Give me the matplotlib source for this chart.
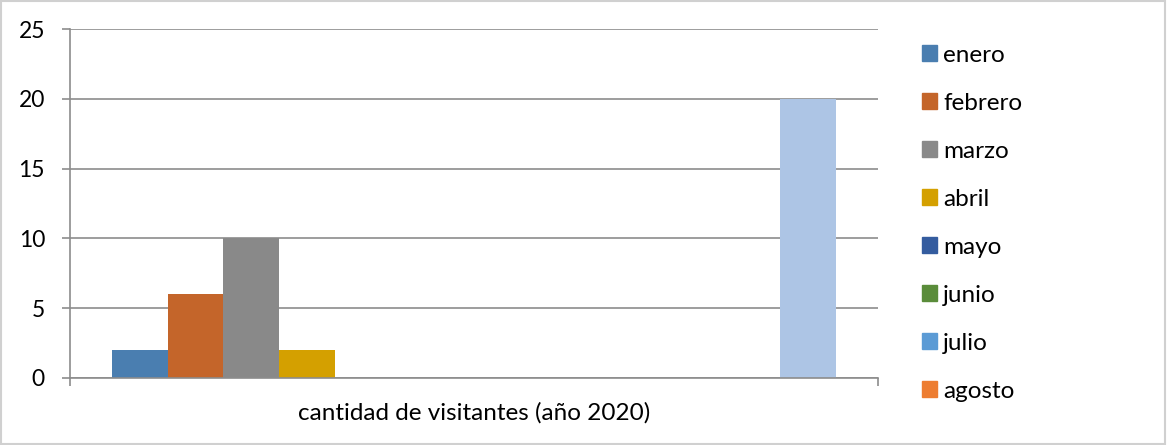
import numpy as np
import matplotlib.pyplot as plt
from matplotlib.patches import Patch, Rectangle

plt.rcParams['font.family'] = ['Lato', 'DejaVu Sans']

category = "cantidad de visitantes (año 2020)"
series = ["enero", "febrero", "marzo", "abril", "mayo", "junio", "julio", "agosto",
          "septiembre", "octubre", "noviembre", "diciembre", "total"]
values = [2, 6, 10, 2, 0, 0, 0, 0, 0, 0, 0, 0, 20]
colors = ["#4A7EB0", "#C4652A", "#898989", "#D4A000", "#345C9F", "#5A8C3A",
          "#5B9BD5", "#ED7D31", "#A5A5A5", "#FFC000", "#4472C4", "#70AD47", "#ADC5E5"]
legend_count = 8  # only first 8 entries fit in the legend box

fig = plt.figure(figsize=(11.67, 4.45), dpi=100)
ax = fig.add_axes([70/1167, 67/445, 808/1167, 349/445])

n = len(series)
w = 1 / (n + 1.5)
for i, (name, v, c) in enumerate(zip(series, values, colors)):
    ax.bar((i - (n - 1) / 2) * w, v, width=w, color=c, label=name)

ax.set_xlim(-0.5, 0.5)
ax.set_ylim(0, 25)
ax.set_yticks([0, 5, 10, 15, 20, 25])
ax.yaxis.grid(True, color="#8c8c8c", linewidth=1.2)
ax.set_axisbelow(True)
ax.set_xticks([-0.5, 0.5])
ax.set_xticklabels([])
ax.tick_params(axis='both', direction='out', length=6, color="#8c8c8c", width=1.2)
ax.tick_params(axis='y', labelsize=16.5, pad=12)
for s in ["top", "right"]:
    ax.spines[s].set_visible(False)
for s in ["left", "bottom"]:
    ax.spines[s].set_color("#8c8c8c")
    ax.spines[s].set_linewidth(1.2)

ax.text(0, -0.1, category, transform=ax.get_xaxis_transform(), ha='center', va='center', fontsize=17.5)

handles = [Patch(color=c) for c in colors[:legend_count]]
fig.legend(handles, series[:legend_count], loc='upper left', bbox_to_anchor=(900/1167, 422/445),
           frameon=False, fontsize=17.5, handlelength=0.62, handleheight=0.62,
           handletextpad=0.25, labelspacing=1.11)

fig.patches.append(Rectangle((0.001, 0.002), 0.997, 0.995, transform=fig.transFigure,
                             fill=False, edgecolor="#d0d0d0", linewidth=1.5))

fig.savefig("out.png", dpi=100)
